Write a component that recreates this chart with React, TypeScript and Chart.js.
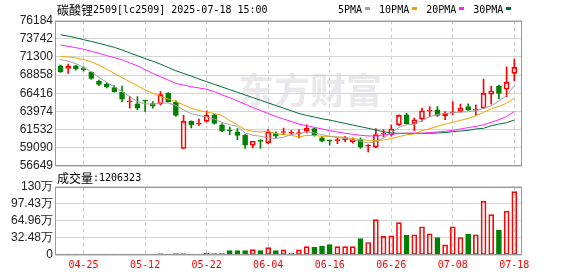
import React, { useEffect, useRef } from 'react';
import { Chart, registerables } from 'chart.js';
Chart.register(...registerables);

const titleCjk = '碳酸锂';
const titleRest = '2509[lc2509] 2025-07-18 15:00';
const volTitle = '成交量';

const dates = ['04-22','04-23','04-24','04-25','04-28','04-29','04-30','05-06','05-07','05-08','05-09','05-12','05-13','05-14','05-15','05-16','05-19','05-20','05-21','05-22','05-23','05-26','05-27','05-28','05-29','05-30','06-03','06-04','06-05','06-06','06-09','06-10','06-11','06-12','06-13','06-16','06-17','06-18','06-19','06-20','06-23','06-24','06-25','06-26','06-27','06-30','07-01','07-02','07-03','07-04','07-07','07-08','07-09','07-10','07-11','07-14','07-15','07-16','07-17','07-18'];
const xTickLabels = ['04-25','05-12','05-22','06-04','06-16','06-26','07-08','07-18'];

const open = [70100,69740,70100,69830,69210,68050,67610,67170,66550,65250,64990,65480,65040,64990,66410,65210,59000,62640,62280,62640,63530,62190,61480,61220,60770,59440,60000,59750,61000,61150,61050,61000,61310,61660,60420,60080,60060,60200,59890,60200,59300,59180,60950,60860,62190,63530,62330,62950,64010,64190,63390,63790,63970,64640,64150,64410,66280,67390,66950,69080];
const high = [70200,70320,70190,69960,69300,68190,67830,67430,67390,65970,65970,65480,65300,66630,66500,65390,63440,62730,62950,64060,63620,62330,61880,61660,60860,59970,60200,61530,61220,61750,61400,61530,62190,61750,60640,60080,60420,60640,60420,60420,59530,61660,61530,62190,63530,63750,63080,64410,64640,64640,63970,65300,64950,64990,64860,68320,67390,67520,69960,70990];
const low = [69200,69080,69520,69390,68280,67430,67120,66550,65300,64410,64190,63970,64410,64860,65210,63300,58950,61750,62100,62550,62280,61260,60860,60200,59000,59090,59000,59620,60420,60860,60860,60420,61080,60640,59890,59440,59660,59890,59710,59000,58550,59090,60550,60640,62060,62280,61400,62640,63300,63300,62860,63530,63880,64100,63440,64330,64950,65660,65970,68060];
const close = [69300,70050,69700,69560,68410,67610,67260,66630,65610,65350,64410,65350,64680,66230,65300,63440,62640,62190,62370,63440,62370,61400,61350,60770,59440,59970,59950,61220,60640,61220,61100,61080,61710,60770,59970,60030,60120,60420,60200,59180,59370,60860,61040,61620,63440,62330,62860,64060,64100,63440,63750,63880,64410,64190,64230,66410,66720,66410,67880,69880];

const ma5 = [70940,70720,70410,69880,69300,68540,67880,67300,66630,65970,65300,64990,64950,65080,65120,64770,64190,63660,63440,63220,62950,62510,62190,61970,61080,60770,60640,60420,60330,60510,60860,61000,61220,61080,60860,60640,60510,60330,60200,59970,59750,59890,60420,61080,61840,62190,62280,62770,63260,63570,63700,63790,63880,63930,64060,64410,64730,65390,66100,67430];
const ma10 = [71340,71300,71160,70940,70630,70190,69650,69080,68500,67970,67430,66860,66410,65970,65660,65300,64860,64410,64100,63880,63700,63440,62730,62190,61530,61310,61220,61310,61000,60860,60770,60550,60770,60730,60640,60600,60550,60510,60330,60200,60110,60060,60150,60330,60600,60820,60950,61400,61660,61970,62280,62510,62770,63040,63390,63840,64330,64640,65080,65750];
const ma20 = [72890,72720,72540,72320,72050,71780,71470,71210,70900,70500,70100,69610,69080,68630,68190,67740,67520,67300,67120,66950,66630,66190,65840,65390,64950,64500,64100,63700,63300,62950,62640,62280,62060,61840,61620,61400,61220,61040,60910,60770,60680,60680,60820,60910,61000,61040,61080,61040,61130,61220,61310,61440,61620,61800,61970,62190,62510,62860,63300,63970];
const ma30 = [74270,74090,73870,73610,73380,73120,72850,72580,72230,71830,71470,71070,70720,70320,69880,69430,69080,68720,68320,67970,67610,67260,66900,66550,66190,65840,65480,65120,64770,64410,64060,63700,63440,63220,62990,62820,62590,62370,62150,61930,61710,61480,61260,61080,61040,61040,61000,61040,61040,61080,61130,61260,61350,61440,61620,61710,62060,62280,62460,62820];

// volume in 万 (10,000 lots)
const volume = [0.8,0.6,0.7,0.7,0.7,0.7,0.7,0.7,0.7,0.7,0.7,1.3,0.6,2.6,0.7,2.6,2.6,1.5,1.3,3.8,2.6,2.6,8.3,8.3,8.3,10.3,8.3,14.1,8.3,9.8,3.8,9.6,16.0,14.7,16.7,19.9,16.0,16.0,16.0,31.4,23.7,67.3,35.3,36.5,61.5,37.2,38.5,53.8,40.4,33.3,19.2,53.8,33.3,39.1,38.5,102.6,76.9,46.8,83.3,120.6323];

const priceTicks = [56649, 59090, 61532, 63974, 66416, 68858, 71300, 73742, 76184];
const volTicks = [0, 32.48, 64.96, 97.43, 129.92];
const volTickLabels = ['0', '32.48万', '64.96万', '97.43万', '130万'];

const maNames = ['5PMA', '10PMA', '20PMA', '30PMA'];
const maColors = ['#a3a3a3', '#f5a200', '#ff22ff', '#006b38'];
const maSeries = [ma5, ma10, ma20, ma30];

const UP = '#ff0000';
const DOWN = '#008000';
const X_MIN = -0.715;
const X_MAX = 60.0;
const MONO = '"DejaVu Sans Mono", monospace';
const CJK = '"Noto Sans CJK SC", sans-serif';

const idx = dates.map((_, i) => i);
const isUp = (i: number) => close[i] >= open[i];
const tickIdx = xTickLabels.map((l) => dates.indexOf(l));

const framePlugin = {
  id: 'frame',
  afterDatasetsDraw(chart: any) {
    const { ctx, chartArea: a } = chart;
    ctx.save();
    ctx.strokeStyle = '#999';
    ctx.lineWidth = 1;
    const l = Math.round(a.left) + 0.5;
    const t = Math.round(a.top) + 0.5;
    const r = Math.round(a.right) - 0.5;
    const b = Math.round(a.bottom) - 0.5;
    ctx.strokeRect(l, t, r - l, b - t);
    ctx.restore();
  },
};

const xScale = (showLabels: boolean, h: number) => ({
  type: 'linear',
  min: X_MIN,
  max: X_MAX,
  offset: false,
  afterBuildTicks: (s: any) => {
    s.ticks = tickIdx.map((v) => ({ value: v }));
  },
  afterFit: (s: any) => {
    s.height = h;
  },
  ticks: {
    display: showLabels,
    autoSkip: false,
    maxRotation: 0,
    padding: 4,
    color: '#ff0000',
    font: { family: MONO, size: 10 },
    callback: (v: any) => dates[v] ?? '',
  },
  grid: { color: '#cccccc', drawTicks: false, lineWidth: 1, offset: false },
  border: { display: false, dash: [4, 3] },
});

export default function App() {
  const refA = useRef<HTMLCanvasElement>(null);
  const refB = useRef<HTMLCanvasElement>(null);

  useEffect(() => {
    const titlePlugin = {
      id: 'titleText',
      afterDraw(chart: any) {
        const { ctx } = chart;
        ctx.save();
        ctx.textBaseline = 'middle';
        ctx.fillStyle = '#000';
        ctx.font = `12px ${CJK}`;
        ctx.fillText(titleCjk, 57, 10);
        const w = ctx.measureText(titleCjk).width;
        ctx.font = `10px ${MONO}`;
        ctx.fillText(titleRest, 57 + w, 10);
        let x = 338;
        maNames.forEach((n, k) => {
          ctx.font = `10px ${MONO}`;
          ctx.fillStyle = '#000';
          ctx.fillText(n, x, 10);
          x += ctx.measureText(n).width + 3;
          ctx.fillStyle = maColors[k];
          ctx.fillRect(Math.round(x), 7, 5, 3);
          x += 5 + 9;
        });
        ctx.restore();
      },
      beforeDatasetsDraw(chart: any) {
        const { ctx } = chart;
        ctx.save();
        ctx.fillStyle = 'rgba(215,215,222,0.55)';
        ctx.font = `bold 36px ${CJK}`;
        ctx.textBaseline = 'middle';
        ctx.fillText('东方财富', 238, 90);
        ctx.restore();
      },
    };

    const volTextPlugin = {
      id: 'volText',
      afterDraw(chart: any) {
        const { ctx } = chart;
        ctx.save();
        ctx.textBaseline = 'middle';
        ctx.fillStyle = '#000';
        ctx.font = `12px ${CJK}`;
        ctx.fillText(volTitle, 57, 10);
        const w = ctx.measureText(volTitle).width;
        ctx.font = `10px ${MONO}`;
        ctx.fillText(':' + Math.round(volume[volume.length - 1] * 10000), 57 + w, 10);
        ctx.restore();
      },
    };

    const candleColors = idx.map((i) => (isUp(i) ? UP : DOWN));

    const a = new Chart(refA.current as HTMLCanvasElement, {
      type: 'bar',
      data: {
        datasets: [
          ...maSeries.map((s, k) => ({
            type: 'line' as const,
            data: idx.map((i) => ({ x: i, y: s[i] })),
            borderColor: maColors[k],
            borderWidth: 1,
            pointRadius: 0,
            tension: 0,
            order: 0,
          })),
          {
            type: 'bar' as const,
            data: idx.map((i) => ({ x: i, y: [Math.min(open[i], close[i]), Math.max(open[i], close[i])] })),
            backgroundColor: idx.map((i) => (isUp(i) ? 'rgba(0,0,0,0)' : DOWN)),
            borderColor: candleColors,
            borderWidth: 1,
            borderSkipped: false,
            barThickness: 5,
            minBarLength: 1,
            grouped: false,
            order: 1,
          },
          {
            type: 'bar' as const,
            data: idx.map((i) => ({ x: i, y: [Math.max(open[i], close[i]), high[i]] })),
            backgroundColor: candleColors,
            borderWidth: 0,
            barThickness: 1,
            grouped: false,
            order: 2,
          },
          {
            type: 'bar' as const,
            data: idx.map((i) => ({ x: i, y: [low[i], Math.min(open[i], close[i])] })),
            backgroundColor: candleColors,
            borderWidth: 0,
            barThickness: 1,
            grouped: false,
            order: 2,
          },
        ],
      } as any,
      options: {
        responsive: false,
        animation: false,
        events: [],
        layout: { padding: { left: 0, right: 56, top: 20.5, bottom: 14 } },
        plugins: { legend: { display: false }, tooltip: { enabled: false } },
        scales: {
          x: xScale(false, 0),
          y: {
            type: 'linear',
            min: priceTicks[0],
            max: priceTicks[priceTicks.length - 1],
            afterBuildTicks: (s: any) => {
              s.ticks = priceTicks.map((v) => ({ value: v }));
            },
            afterFit: (s: any) => {
              s.width = 55;
            },
            ticks: {
              autoSkip: false,
              padding: 2,
              color: '#222',
              font: { family: '"Liberation Sans", Arial, sans-serif', size: 12 },
              callback: (v: any) => String(v),
            },
            grid: { color: '#d4d4d4', drawTicks: false },
            border: { display: false },
          },
        } as any,
      },
      plugins: [titlePlugin, framePlugin],
    });

    const b = new Chart(refB.current as HTMLCanvasElement, {
      type: 'bar',
      data: {
        datasets: [
          {
            data: idx.map((i) => ({ x: i, y: volume[i] })),
            backgroundColor: idx.map((i) => (isUp(i) ? 'rgba(0,0,0,0)' : DOWN)),
            borderColor: candleColors,
            borderWidth: 1,
            borderSkipped: false,
            barThickness: 5,
            minBarLength: 1,
            grouped: false,
          },
        ],
      } as any,
      options: {
        responsive: false,
        animation: false,
        events: [],
        layout: { padding: { left: 0, right: 56, top: 18.7, bottom: 0 } },
        plugins: { legend: { display: false }, tooltip: { enabled: false } },
        scales: {
          x: xScale(true, 21),
          y: {
            type: 'linear',
            min: 0,
            max: volTicks[volTicks.length - 1],
            afterBuildTicks: (s: any) => {
              s.ticks = volTicks.map((v) => ({ value: v }));
            },
            afterFit: (s: any) => {
              s.width = 55;
            },
            ticks: {
              autoSkip: false,
              padding: 2,
              color: '#222',
              font: { family: '"Liberation Sans", Arial, sans-serif', size: 12 },
              callback: (_v: any, k: number) => volTickLabels[k],
            },
            grid: { color: '#d4d4d4', drawTicks: false },
            border: { display: false },
          },
        } as any,
      },
      plugins: [volTextPlugin, framePlugin],
    });

    return () => {
      a.destroy();
      b.destroy();
    };
  }, []);

  return (
    <div style={{ position: 'fixed', left: 0, top: 0, width: 578, height: 276, background: '#fff' }}>
      <canvas ref={refA} width={578} height={180} style={{ position: 'absolute', left: 0, top: 0, width: 578, height: 180 }} />
      <canvas ref={refB} width={578} height={108} style={{ position: 'absolute', left: 0, top: 168, width: 578, height: 108 }} />
    </div>
  );
}
